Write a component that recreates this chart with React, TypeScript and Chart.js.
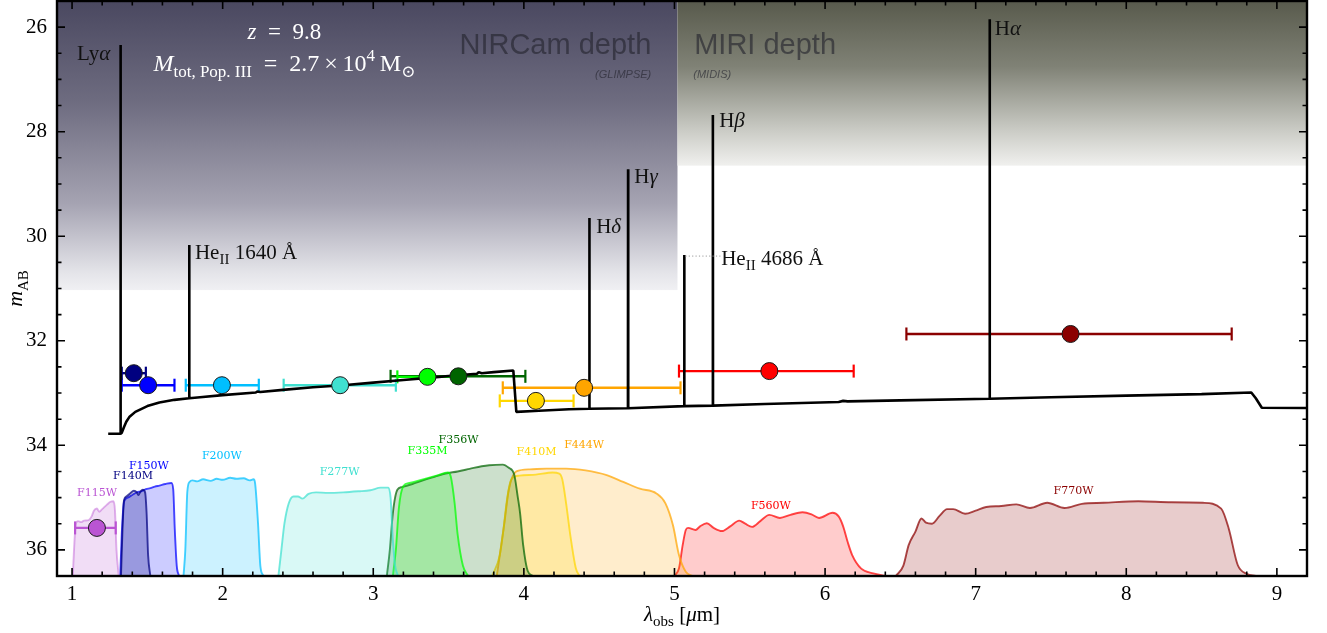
import React, { useEffect, useRef } from "react";
import { Chart, registerables } from "chart.js";

Chart.register(...registerables);

// ---------- model spectrum: observed wavelength [µm] and AB magnitude ----------
const specLambda = [
  1.24, 1.321, 1.322, 1.323, 1.33, 1.345, 1.36, 1.38, 1.42, 1.5, 1.58, 1.68,
  1.777, 1.778, 1.779, 1.85, 2.0, 2.22, 2.23, 2.25, 2.4, 2.6, 2.8, 3.0, 3.2,
  3.4, 3.6, 3.69, 3.7, 3.72, 3.8, 3.93, 3.95, 4.1, 4.3, 4.434, 4.435, 4.436,
  4.691, 4.692, 4.693, 5.064, 5.065, 5.066, 5.254, 5.255, 5.256, 5.6, 6.09,
  6.12, 6.15, 6.5, 7.092, 7.093, 7.094, 7.5, 8.0, 8.5, 8.83, 8.86, 8.9, 9.3,
];
const specMag = [
  33.78, 33.78, 26.34, 33.78, 33.76, 33.65, 33.55, 33.46, 33.36, 33.25, 33.18,
  33.13, 33.1, 30.17, 33.1, 33.08, 33.04, 32.99, 32.97, 32.98, 32.94, 32.89,
  32.85, 32.8, 32.75, 32.7, 32.65, 32.63, 32.6, 32.62, 32.6, 32.57, 33.36,
  33.34, 33.31, 33.3, 29.65, 33.3, 33.29, 28.72, 33.29, 33.25, 30.36, 33.25,
  33.24, 27.68, 33.24, 33.21, 33.17, 33.15, 33.16, 33.14, 33.11, 25.85, 33.11,
  33.08, 33.05, 33.02, 32.99, 33.1, 33.28, 33.29,
];

// ---------- filters ----------
const filterNames = ["F115W", "F140M", "F150W", "F200W", "F277W", "F335M", "F356W", "F410M", "F444W", "F560W", "F770W"];
const filterRGB = [
  "186,85,211", "0,0,128", "0,0,255", "0,191,255", "64,224,208", "0,255,0",
  "0,100,0", "255,215,0", "255,165,0", "255,0,0", "139,0,0",
];
const filterLabelLambda = [1.166, 1.405, 1.51, 1.995, 2.777, 3.36, 3.566, 4.084, 4.4, 5.64, 7.65];
const filterLabelMag = [34.91, 34.585, 34.39, 34.2, 34.51, 34.11, 33.9, 34.13, 33.99, 35.16, 34.87];

// transmission curves, drawn in magnitude units above the plot floor
const f115w = [[1.005, 36.5], [1.013, 36.0], [1.025, 35.5], [1.04, 35.45], [1.06, 35.47], [1.08, 35.44], [1.11, 35.43], [1.13, 35.36], [1.145, 35.25], [1.165, 35.21], [1.18, 35.27], [1.2, 35.22], [1.23, 35.14], [1.255, 35.08], [1.275, 35.07], [1.285, 35.25], [1.295, 36.0], [1.31, 36.5]];
const f140m = [[1.325, 36.5], [1.335, 35.6], [1.345, 35.05], [1.36, 34.98], [1.385, 34.92], [1.41, 34.87], [1.43, 34.9], [1.44, 34.95], [1.455, 34.88], [1.47, 34.85], [1.485, 34.9], [1.495, 35.3], [1.505, 36.1], [1.52, 36.5]];
const f150w = [[1.32, 36.5], [1.33, 35.7], [1.345, 35.08], [1.37, 35.0], [1.4, 34.95], [1.43, 34.9], [1.46, 34.88], [1.49, 34.84], [1.52, 34.82], [1.55, 34.79], [1.58, 34.77], [1.62, 34.74], [1.66, 34.72], [1.672, 34.85], [1.682, 35.6], [1.695, 36.3], [1.71, 36.5]];
const f200w = [[1.74, 36.5], [1.752, 36.0], [1.765, 34.9], [1.78, 34.7], [1.8, 34.67], [1.83, 34.69], [1.87, 34.65], [1.92, 34.68], [1.96, 34.64], [2.0, 34.66], [2.05, 34.62], [2.09, 34.64], [2.14, 34.63], [2.18, 34.67], [2.205, 34.65], [2.215, 34.72], [2.235, 35.5], [2.25, 36.3], [2.27, 36.5]];
const f277w = [[2.37, 36.5], [2.39, 36.0], [2.41, 35.5], [2.44, 35.1], [2.47, 34.98], [2.5, 34.98], [2.53, 35.02], [2.57, 34.93], [2.62, 34.9], [2.7, 34.91], [2.8, 34.9], [2.9, 34.88], [2.98, 34.86], [3.05, 34.81], [3.1, 34.81], [3.115, 35.0], [3.13, 35.8], [3.145, 36.3], [3.165, 36.5]];
const f335m = [[3.13, 36.5], [3.15, 36.0], [3.17, 35.2], [3.2, 34.78], [3.24, 34.72], [3.33, 34.65], [3.42, 34.58], [3.495, 34.52], [3.515, 34.6], [3.54, 35.1], [3.56, 35.7], [3.595, 36.3], [3.63, 36.5]];
const f356w = [[3.09, 36.5], [3.11, 36.0], [3.13, 35.3], [3.16, 34.85], [3.19, 34.8], [3.26, 34.74], [3.33, 34.67], [3.41, 34.6], [3.48, 34.54], [3.56, 34.5], [3.64, 34.45], [3.72, 34.4], [3.77, 34.38], [3.86, 34.37], [3.9, 34.43], [3.935, 34.55], [3.96, 35.0], [3.975, 35.3], [3.995, 35.9], [4.025, 36.4], [4.06, 36.5]];
const f410m = [[3.79, 36.5], [3.84, 36.1], [3.865, 35.6], [3.885, 35.1], [3.91, 34.7], [3.94, 34.6], [3.97, 34.58], [4.08, 34.56], [4.19, 34.52], [4.235, 34.54], [4.255, 34.65], [4.28, 35.1], [4.31, 35.75], [4.345, 36.35], [4.37, 36.5]];
const f444w = [[3.82, 36.5], [3.84, 36.1], [3.87, 35.5], [3.9, 34.85], [3.95, 34.5], [4.04, 34.46], [4.15, 34.445], [4.28, 34.445], [4.41, 34.48], [4.55, 34.57], [4.66, 34.7], [4.77, 34.83], [4.88, 34.92], [4.94, 35.11], [4.99, 35.53], [5.03, 36.1], [5.075, 36.42], [5.12, 36.5]];
const f560w = [[5.0, 36.5], [5.03, 36.35], [5.055, 35.9], [5.075, 35.62], [5.09, 35.58], [5.14, 35.62], [5.17, 35.55], [5.215, 35.49], [5.26, 35.58], [5.315, 35.64], [5.37, 35.55], [5.43, 35.44], [5.47, 35.5], [5.515, 35.56], [5.57, 35.45], [5.63, 35.33], [5.7, 35.39], [5.77, 35.33], [5.85, 35.28], [5.91, 35.32], [5.96, 35.39], [6.05, 35.29], [6.09, 35.36], [6.12, 35.55], [6.15, 35.85], [6.18, 36.1], [6.24, 36.36], [6.32, 36.45], [6.4, 36.5]];
const f770w = [[6.47, 36.5], [6.52, 36.3], [6.555, 35.91], [6.6, 35.65], [6.64, 35.4], [6.67, 35.48], [6.71, 35.5], [6.76, 35.35], [6.81, 35.22], [6.85, 35.22], [6.93, 35.31], [7.0, 35.25], [7.07, 35.18], [7.17, 35.16], [7.27, 35.13], [7.36, 35.2], [7.475, 35.1], [7.59, 35.2], [7.705, 35.12], [7.85, 35.1], [8.08, 35.07], [8.3, 35.09], [8.51, 35.1], [8.63, 35.21], [8.68, 35.59], [8.74, 36.29], [8.8, 36.46], [8.86, 36.5]];
const filterCurves = [f115w, f140m, f150w, f200w, f277w, f335m, f356w, f410m, f444w, f560w, f770w];

// ---------- synthetic photometry (same filter order) ----------
const photLambda = [1.165, 1.41, 1.505, 1.995, 2.78, 3.36, 3.565, 4.08, 4.4, 5.63, 7.63];
const photMag = [35.58, 32.62, 32.85, 32.85, 32.85, 32.69, 32.68, 33.15, 32.9, 32.58, 31.87];
const photLo = [1.02, 1.33, 1.33, 1.755, 2.405, 3.16, 3.115, 3.84, 3.86, 5.03, 6.54];
const photHi = [1.29, 1.49, 1.68, 2.24, 3.15, 3.53, 4.01, 4.33, 5.04, 6.19, 8.7];

// ---------- emission line labels ----------
const lineLabelText = ["Lyα", "HeII1640", "Hδ", "Hγ", "HeII4686", "Hβ", "Hα"];
const lineLabelLambda = [1.033, 1.816, 4.48, 4.733, 5.31, 5.297, 7.127];
const lineLabelMag = [26.63, 30.44, 29.94, 28.98, 30.55, 27.91, 26.15];
const heII4686Connector = [5.072, 5.305, 30.38];

// ---------- survey depths ----------
const depthSplitLambda = 5.02;
const nircamDepthMag = 31.03;
const miriDepthMag = 28.65;

// ---------- axes ----------
const xMin = 0.9, xMax = 9.2;
const yMin = 25.5, yMax = 36.5;
const xTickValues = [1, 2, 3, 4, 5, 6, 7, 8, 9];
const yTickValues = [26, 28, 30, 32, 34, 36];

const SERIF = '"Liberation Serif", "DejaVu Serif", serif';
const SANS = '"Liberation Sans", Arial, sans-serif';

type Seg = { t: string; it?: boolean; sub?: boolean; sup?: boolean };

function drawRich(ctx: CanvasRenderingContext2D, segs: Seg[], x: number, y: number, size: number, color: string, align: "left" | "center" | "right" = "left") {
  const fontFor = (s: Seg) => `${s.it ? "italic " : ""}${s.sub || s.sup ? Math.round(size * 0.7) : size}px ${SERIF}`;
  let total = 0;
  for (const s of segs) {
    ctx.font = fontFor(s);
    total += ctx.measureText(s.t).width;
  }
  let cx = align === "center" ? x - total / 2 : align === "right" ? x - total : x;
  ctx.fillStyle = color;
  ctx.textAlign = "left";
  ctx.textBaseline = "alphabetic";
  for (const s of segs) {
    ctx.font = fontFor(s);
    const dy = s.sub ? size * 0.25 : s.sup ? -size * 0.42 : 0;
    ctx.fillText(s.t, cx, y + dy);
    cx += ctx.measureText(s.t).width;
  }
}

const lineSegs: Record<string, Seg[]> = {
  "Lyα": [{ t: "Ly" }, { t: "α", it: true }],
  HeII1640: [{ t: "He" }, { t: "II", sub: true }, { t: " 1640 Å" }],
  "Hδ": [{ t: "H" }, { t: "δ", it: true }],
  "Hγ": [{ t: "H" }, { t: "γ", it: true }],
  HeII4686: [{ t: "He" }, { t: "II", sub: true }, { t: " 4686 Å" }],
  "Hβ": [{ t: "H" }, { t: "β", it: true }],
  "Hα": [{ t: "H" }, { t: "α", it: true }],
};

const noPadding = () => ({ left: 0, top: 0, right: 0, bottom: 0 });

const backgroundPlugin = {
  id: "depthShading",
  beforeDatasetsDraw(chart: any) {
    const { ctx, chartArea: a, scales } = chart;
    const x = scales.x, y = scales.y;
    const xs = x.getPixelForValue(depthSplitLambda);
    const yn = y.getPixelForValue(nircamDepthMag);
    const ym = y.getPixelForValue(miriDepthMag);
    ctx.save();
    ctx.beginPath();
    ctx.rect(a.left, a.top, a.right - a.left, a.bottom - a.top);
    ctx.clip();
    const gN = ctx.createLinearGradient(0, a.top, 0, yn);
    gN.addColorStop(0, "rgb(74,72,96)");
    gN.addColorStop(0.35, "rgb(110,108,128)");
    gN.addColorStop(0.7, "rgb(165,163,178)");
    gN.addColorStop(0.94, "rgb(228,228,233)");
    gN.addColorStop(1, "rgb(240,240,243)");
    ctx.fillStyle = gN;
    ctx.fillRect(a.left, a.top, xs - a.left, yn - a.top);
    const gM = ctx.createLinearGradient(0, a.top, 0, ym);
    gM.addColorStop(0, "rgb(88,90,76)");
    gM.addColorStop(0.4, "rgb(128,130,118)");
    gM.addColorStop(0.8, "rgb(205,206,200)");
    gM.addColorStop(1, "rgb(240,240,238)");
    ctx.fillStyle = gM;
    ctx.fillRect(xs, a.top, a.right - xs, ym - a.top);

    // survey labels
    const by = y.getPixelForValue(26.52);
    const sy = y.getPixelForValue(26.975);
    ctx.fillStyle = "rgba(35,35,45,0.62)";
    ctx.textBaseline = "alphabetic";
    ctx.font = `29px ${SANS}`;
    ctx.textAlign = "right";
    ctx.fillText("NIRCam depth", x.getPixelForValue(4.846), by);
    ctx.textAlign = "left";
    ctx.fillText("MIRI depth", x.getPixelForValue(5.131), by);
    ctx.font = `italic 11px ${SANS}`;
    ctx.textAlign = "right";
    ctx.fillText("(GLIMPSE)", x.getPixelForValue(4.846), sy);
    ctx.textAlign = "left";
    ctx.fillText("(MIDIS)", x.getPixelForValue(5.125), sy);
    ctx.restore();
  },
};

const labelPlugin = {
  id: "annotations",
  afterDatasetsDraw(chart: any) {
    const { ctx, scales } = chart;
    const x = scales.x, y = scales.y;
    ctx.save();
    // filter names
    ctx.font = `11px "DejaVu Serif", serif`;
    ctx.textAlign = "center";
    ctx.textBaseline = "middle";
    filterNames.forEach((n, i) => {
      ctx.fillStyle = `rgb(${filterRGB[i]})`;
      ctx.fillText(n, x.getPixelForValue(filterLabelLambda[i]), y.getPixelForValue(filterLabelMag[i]));
    });
    // emission line names
    lineLabelText.forEach((k, i) => {
      drawRich(ctx, lineSegs[k], x.getPixelForValue(lineLabelLambda[i]), y.getPixelForValue(lineLabelMag[i]), 21, "#111");
    });
    // dotted leader for HeII 4686
    ctx.strokeStyle = "#9a9a9a";
    ctx.lineWidth = 1;
    ctx.setLineDash([1.2, 2.2]);
    ctx.beginPath();
    const cy = y.getPixelForValue(heII4686Connector[2]);
    ctx.moveTo(x.getPixelForValue(heII4686Connector[0]), cy);
    ctx.lineTo(x.getPixelForValue(heII4686Connector[1]), cy);
    ctx.stroke();
    ctx.setLineDash([]);
    // redshift and mass
    const cx = x.getPixelForValue(2.41);
    drawRich(ctx, [{ t: "z", it: true }, { t: "\u2002=\u20029.8" }], cx, y.getPixelForValue(26.23), 23, "#fff", "center");
    drawRich(
      ctx,
      [{ t: "M", it: true }, { t: "tot, Pop. III", sub: true }, { t: "\u2002=\u20022.7\u2009×\u200910" }, { t: "4", sup: true }, { t: "\u2009M" }, { t: "⊙", sub: true }],
      cx, y.getPixelForValue(26.84), 24, "#fff", "center"
    );
    ctx.restore();
  },
};

const framePlugin = {
  id: "frameTicks",
  afterDraw(chart: any) {
    const { ctx, chartArea: a, scales } = chart;
    const x = scales.x, y = scales.y;
    ctx.save();
    ctx.strokeStyle = "#000";
    ctx.lineWidth = 1.6;
    ctx.beginPath();
    for (let i = 5; i <= 46; i++) {
      const px = x.getPixelForValue(i * 0.2);
      if (px <= a.left + 1 || px >= a.right - 1) continue;
      const len = i % 5 === 0 ? 8 : 4.5;
      ctx.moveTo(px, a.bottom); ctx.lineTo(px, a.bottom - len);
      ctx.moveTo(px, a.top); ctx.lineTo(px, a.top + len);
    }
    for (let j = 51; j <= 73; j++) {
      const v = j * 0.5;
      const py = y.getPixelForValue(v);
      if (py <= a.top + 1 || py >= a.bottom - 1) continue;
      const len = v % 2 === 0 ? 8 : 4.5;
      ctx.moveTo(a.left, py); ctx.lineTo(a.left + len, py);
      ctx.moveTo(a.right, py); ctx.lineTo(a.right - len, py);
    }
    ctx.stroke();
    ctx.lineWidth = 2.4;
    ctx.strokeRect(a.left, a.top, a.right - a.left, a.bottom - a.top);

    // axis titles
    drawRich(ctx, [{ t: "λ", it: true }, { t: "obs", sub: true }, { t: " [" }, { t: "μ", it: true }, { t: "m]" }], (a.left + a.right) / 2, 621, 21, "#000", "center");
    ctx.translate(22, (a.top + a.bottom) / 2);
    ctx.rotate(-Math.PI / 2);
    drawRich(ctx, [{ t: "m", it: true }, { t: "AB", sub: true }], 0, 0, 22, "#000", "center");
    ctx.restore();
  },
};

function buildDatasets() {
  const ds: any[] = [];
  // photometric points (top)
  photLambda.forEach((l, i) => {
    ds.push({
      type: "line",
      data: [{ x: l, y: photMag[i] }],
      showLine: false,
      pointRadius: 8.5,
      pointBackgroundColor: `rgb(${filterRGB[i]})`,
      pointBorderColor: "#1a1a1a",
      pointBorderWidth: 1,
      order: 0,
    });
  });
  // spectrum
  ds.push({
    type: "line",
    data: specLambda.map((l, i) => ({ x: l, y: specMag[i] })),
    borderColor: "#000",
    borderWidth: 2.6,
    borderJoinStyle: "bevel",
    pointRadius: 0,
    tension: 0,
    order: 1,
  });
  // wavelength error bars with caps
  photLambda.forEach((_, i) => {
    const c = `rgb(${filterRGB[i]})`;
    ds.push({
      type: "line",
      data: [{ x: photLo[i], y: photMag[i] }, { x: photHi[i], y: photMag[i] }],
      borderColor: c,
      borderWidth: 2.4,
      pointStyle: "line",
      pointRotation: 90,
      pointRadius: 6.5,
      pointBorderColor: c,
      pointBorderWidth: 2.2,
      order: 2,
    });
  });
  // filter transmission curves
  filterCurves.forEach((curve, i) => {
    const edgeAlpha = i === 0 ? 0.45 : 0.72;
    ds.push({
      type: "line",
      data: curve.map(([l, m]) => ({ x: l, y: m })),
      borderColor: `rgba(${filterRGB[i]},${edgeAlpha})`,
      backgroundColor: `rgba(${filterRGB[i]},${i === 1 ? 0.25 : 0.2})`,
      borderWidth: 1.9,
      fill: { value: yMax },
      pointRadius: 0,
      cubicInterpolationMode: "monotone",
      order: 3,
    });
  });
  return ds;
}

export default function App() {
  const ref = useRef<HTMLCanvasElement>(null);
  useEffect(() => {
    const canvas = ref.current;
    if (!canvas) return;
    const chart = new Chart(canvas, {
      type: "line",
      data: { datasets: buildDatasets() },
      options: {
        animation: false,
        responsive: false,
        devicePixelRatio: 1,
        events: [],
        layout: { autoPadding: false, padding: { left: 0, right: 20, top: 1, bottom: 0 } },
        plugins: { legend: { display: false }, tooltip: { enabled: false } },
        scales: {
          x: {
            type: "linear",
            min: xMin,
            max: xMax,
            grid: { display: false, drawTicks: false },
            border: { display: false },
            afterBuildTicks: (s: any) => { s.ticks = xTickValues.map((v) => ({ value: v })); },
            afterFit: (s: any) => { s.height = 57; s.paddingLeft = 0; s.paddingRight = 0; s.getPadding = noPadding; },
            ticks: { color: "#000", padding: 6, font: { family: SERIF, size: 21 }, maxRotation: 0, callback: (v: any) => String(v) },
          },
          y: {
            type: "linear",
            reverse: true,
            min: yMin,
            max: yMax,
            grid: { display: false, drawTicks: false },
            border: { display: false },
            afterBuildTicks: (s: any) => { s.ticks = yTickValues.map((v) => ({ value: v })); },
            afterFit: (s: any) => { s.width = 57; s.paddingTop = 0; s.paddingBottom = 0; s.getPadding = noPadding; },
            ticks: { color: "#000", padding: 10, font: { family: SERIF, size: 21 }, callback: (v: any) => String(v) },
          },
        },
      },
      plugins: [backgroundPlugin, labelPlugin, framePlugin],
    } as any);
    return () => chart.destroy();
  }, []);
  return (
    <div style={{ position: "fixed", left: 0, top: 0, width: 1327, height: 633, background: "#fff" }}>
      <canvas ref={ref} width={1327} height={633} style={{ width: 1327, height: 633, display: "block" }} />
    </div>
  );
}
